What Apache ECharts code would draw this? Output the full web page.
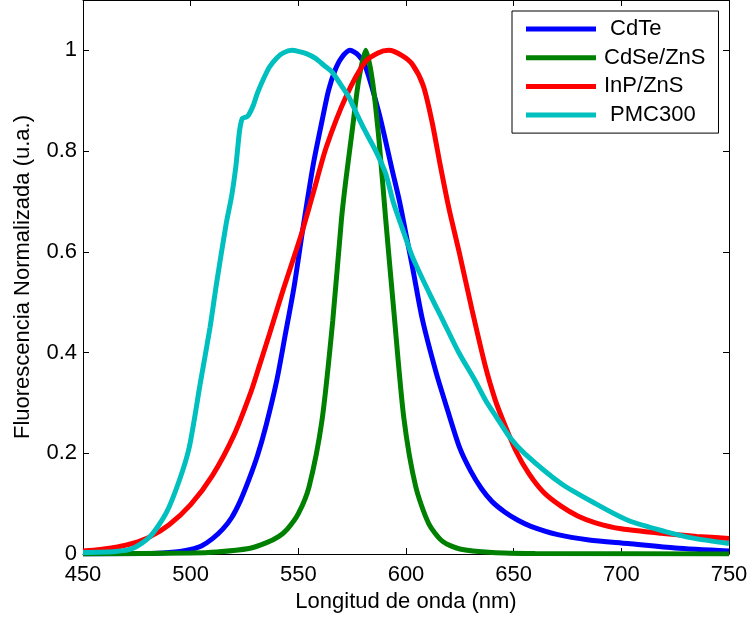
<!DOCTYPE html>
<html>
<head>
<meta charset="utf-8">
<script src="https://cdn.jsdelivr.net/npm/echarts@6/dist/echarts.min.js"></script>
<style>html,body{margin:0;padding:0;background:#fff;}#c{width:751px;height:620px;}</style>
</head>
<body>
<div id="c"></div>
<script>
const seriesNames = ['CdTe', 'CdSe/ZnS', 'InP/ZnS', 'PMC300'];
const xTicks = [450, 500, 550, 600, 650, 700, 750];
const yTicks = [0, 0.2, 0.4, 0.6, 0.8, 1];

const cdteX = [450,480,490,495,500,505,510,515,519,523,527,531,535,540,544,548,552,557,561,564,567,570,574,578,581,587.5,593.6,597,600,603,607.6,614,619,625,630,635,640,646,652,658,670,685,703,725,750];
const cdteY = [0,0.001,0.003,0.005,0.009,0.016,0.03,0.05,0.072,0.105,0.147,0.195,0.255,0.345,0.437,0.53,0.643,0.775,0.86,0.92,0.96,0.985,1.0,0.99,0.97,0.875,0.762,0.70,0.635,0.57,0.466,0.36,0.29,0.21,0.165,0.13,0.104,0.083,0.067,0.055,0.039,0.028,0.021,0.012,0.006];

const cdseX = [450,500,512,527,535,541,545,550,555,561,566,570,572,575,578,581.3,584.4,587.5,590.6,594.4,599,604.5,610.6,617,625,640,660,750];
const cdseY = [0,0.002,0.004,0.011,0.022,0.035,0.05,0.08,0.134,0.266,0.464,0.663,0.74,0.84,0.94,1.0,0.94,0.82,0.663,0.48,0.27,0.134,0.06,0.025,0.01,0.003,0.001,0];

const inpX = [450,458,466,473,481,490,500,510,520,528,532,536.6,543,549,552,557,563,572,581,587,592,598,603,608,612,616,620,624.5,630.7,636.9,641.5,644.6,651,657,664,672,680,688,700,718.5,735,750];
const inpY = [0.006,0.009,0.014,0.021,0.034,0.058,0.098,0.155,0.235,0.322,0.375,0.437,0.525,0.603,0.643,0.718,0.808,0.907,0.977,0.995,1.0,0.99,0.972,0.93,0.86,0.77,0.685,0.603,0.484,0.372,0.305,0.27,0.205,0.16,0.122,0.095,0.075,0.062,0.05,0.041,0.035,0.031];

const pmcX = [450,465,473,481,488.6,494.8,499.4,504.5,509,512,516.5,519,521,522.7,524,526,527,529,531,534,536.6,540,543,547,550,554,558,562,565.7,570,573.5,577,581,586,590.6,594,598,603,610.6,617,624.5,632,637,642,648,655,672,688,703,720,734,750];
const pmcY = [0.003,0.005,0.011,0.034,0.081,0.147,0.213,0.34,0.45,0.537,0.656,0.71,0.77,0.84,0.865,0.868,0.872,0.89,0.915,0.945,0.967,0.985,0.995,1.0,0.998,0.993,0.984,0.97,0.957,0.93,0.907,0.875,0.84,0.80,0.755,0.70,0.65,0.59,0.52,0.465,0.40,0.345,0.305,0.272,0.233,0.2,0.14,0.10,0.067,0.045,0.031,0.021];

const colors = ['#0000ff', '#008000', '#ff0000', '#00bfbf'];
const xs = [cdteX, cdseX, inpX, pmcX];
const ys = [cdteY, cdseY, inpY, pmcY];

const font = 'Liberation Sans, Arial, Helvetica, sans-serif';
const fs = 22;

function axisBase(extra) {
  return Object.assign({
    axisLine: { show: true, onZero: false, lineStyle: { color: '#000', width: 1 } },
    axisTick: { show: true, inside: true, length: 6, lineStyle: { color: '#000' } },
    splitLine: { show: false },
    axisLabel: { color: '#000', fontSize: fs, fontFamily: font }
  }, extra);
}

const chart = echarts.init(document.getElementById('c'), null, { renderer: 'canvas' });
chart.setOption({
  animation: false,
  backgroundColor: '#fff',
  grid: { left: 83, right: 22, top: 0, bottom: 66, containLabel: false },
  legend: {
    data: seriesNames,
    orient: 'vertical',
    left: 512,
    top: 11,
    padding: [7, 13, 7, 14],
    itemGap: 6.7,
    itemWidth: 70,
    itemHeight: 5,
    icon: 'rect',
    backgroundColor: '#fff',
    borderColor: '#000',
    borderWidth: 1,
    borderRadius: 0,
    formatter: n => (n === 'CdTe' || n === 'PMC300') ? ' ' + n : n,
    textStyle: { color: '#000', fontSize: fs, fontFamily: font, padding: [0, 0, 0, 3] }
  },
  xAxis: [
    axisBase({
      type: 'value', position: 'bottom', min: 450, max: 750, interval: 50,
      name: 'Longitud de onda (nm)', nameLocation: 'middle', nameGap: 36,
      nameTextStyle: { color: '#000', fontSize: fs, fontFamily: font },
      axisLabel: { color: '#000', fontSize: fs, fontFamily: font, margin: 10,
        formatter: v => (xTicks.indexOf(v) >= 0 ? String(v) : '') }
    }),
    axisBase({
      type: 'value', position: 'top', min: 450, max: 750, interval: 50,
      axisLabel: { show: false }
    })
  ],
  yAxis: [
    axisBase({
      type: 'value', position: 'left', min: 0, max: 1.1, interval: 0.2,
      name: 'Fluorescencia Normalizada (u.a.)', nameLocation: 'middle', nameGap: 49,
      nameTextStyle: { color: '#000', fontSize: fs, fontFamily: font },
      axisLabel: { color: '#000', fontSize: fs, fontFamily: font, margin: 6, showMaxLabel: false,
        formatter: v => {
          const r = Math.round(v * 10) / 10;
          return yTicks.indexOf(r) >= 0 ? String(r) : '';
        } }
    }),
    axisBase({
      type: 'value', position: 'right', min: 0, max: 1.1, interval: 0.2,
      axisLabel: { show: false }
    })
  ],
  series: seriesNames.map((name, i) => ({
    name: name,
    type: 'line',
    xAxisIndex: 0,
    yAxisIndex: 0,
    showSymbol: false,
    symbol: 'none',
    smooth: 0.25,
    color: colors[i],
    lineStyle: { color: colors[i], width: 5 },
    data: xs[i].map((x, k) => [x, ys[i][k]])
  }))
});
</script>
</body>
</html>
